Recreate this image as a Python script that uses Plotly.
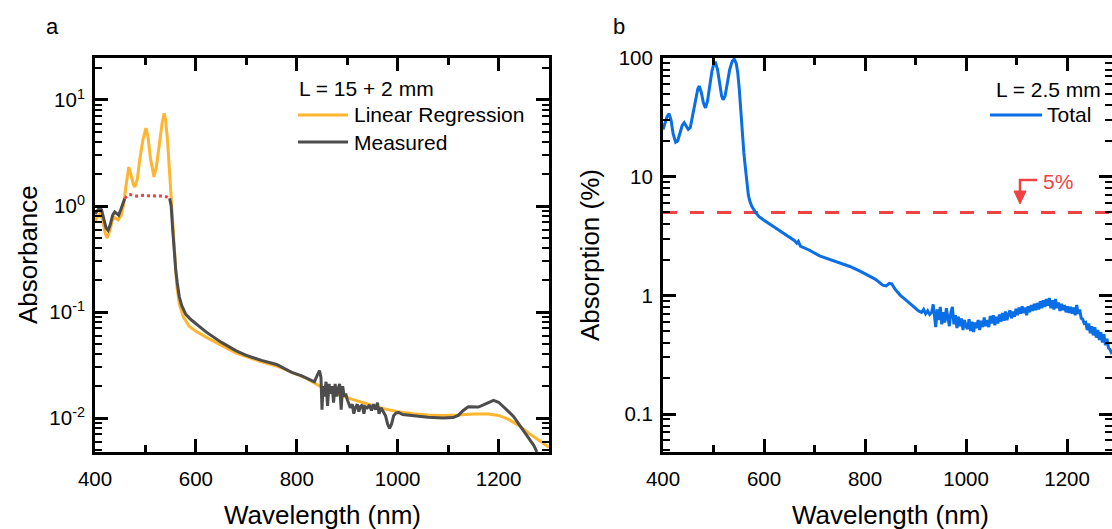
import plotly.graph_objects as go

# ---------------- Panel a data ----------------
lr_wl = [400, 405, 410, 415, 420, 424, 430, 434, 438, 442, 446, 452, 457, 461, 465, 467,
         471, 476, 479, 484, 489, 495, 501, 505, 510, 515, 517, 522, 528, 533, 537, 540,
         544, 548, 552, 555, 558, 562, 567, 575, 587, 600, 620, 650, 680, 700, 730, 760,
         790, 820, 850, 880, 910, 940, 970, 1000, 1030, 1060, 1090, 1120, 1150, 1180,
         1200, 1220, 1240, 1260, 1280, 1300]
lr_abs = [0.71, 0.80, 0.85, 0.74, 0.56, 0.50, 0.60, 0.72, 0.78, 0.76, 0.74, 0.82, 1.05, 1.5,
          2.1, 2.33, 2.0, 1.6, 1.51, 1.8, 2.8, 4.2, 5.44, 4.5, 2.8, 1.95, 1.88, 2.4, 4.0,
          6.0, 7.5, 6.5, 4.0, 2.0, 1.06, 0.5, 0.3, 0.18, 0.12, 0.09, 0.073, 0.066, 0.058,
          0.049, 0.041, 0.038, 0.034, 0.031, 0.027, 0.0235, 0.0195, 0.0168, 0.015, 0.0135,
          0.0123, 0.0115, 0.0110, 0.0107, 0.0106, 0.0107, 0.0109, 0.0109, 0.0106, 0.0097,
          0.0085, 0.0072, 0.0062, 0.0053]

meas_wl = [400, 404, 409, 413, 418, 422, 426, 430, 435, 439, 443, 447, 451, 455, 459,
           None,
           548, 551, 554, 557, 560, 563, 567, 572, 580, 590, 600, 620, 650, 680, 700, 730,
           760, 790, 810, 825, 835, 840, 845, 848, 850, 852, 855, 858, 861, 864, 867, 870,
           873, 876, 879, 882, 885, 888, 891, 894, 897, 900, 903, 906, 910, 913, 916, 920,
           923, 926, 930, 933, 936, 940, 944, 948, 952, 956, 960, 963, 967, 972, 976, 980,
           984, 988, 992, 997, 1002, 1010, 1030, 1060, 1090, 1110, 1120, 1130, 1140, 1150,
           1160, 1170, 1180, 1190, 1200, 1210, 1220, 1230, 1240, 1250, 1260, 1270, 1276]
meas_abs = [0.84, 0.90, 0.96, 0.92, 0.72, 0.62, 0.59, 0.66, 0.82, 0.88, 0.85, 0.82, 0.92,
            1.05, 1.18,
            None,
            1.18, 1.0, 0.6, 0.35, 0.25, 0.19, 0.14, 0.115, 0.095, 0.085, 0.078, 0.065,
            0.052, 0.043, 0.039, 0.035, 0.032, 0.027, 0.025, 0.023, 0.022, 0.025, 0.028,
            0.024, 0.012, 0.020, 0.016, 0.022, 0.013, 0.021, 0.017, 0.020, 0.014, 0.021,
            0.016, 0.019, 0.021, 0.012, 0.020, 0.016, 0.017, 0.015, 0.0135, 0.0125, 0.0135,
            0.011, 0.0125, 0.0135, 0.0115, 0.0128, 0.0133, 0.011, 0.0128, 0.0125, 0.0133,
            0.0118, 0.0135, 0.012, 0.014, 0.011, 0.0125, 0.0115, 0.0105, 0.0088, 0.0080,
            0.0088, 0.0105, 0.0112, 0.0113, 0.0108, 0.0105, 0.0102, 0.0100, 0.0101, 0.0106,
            0.0118, 0.0128, 0.0128, 0.0127, 0.0133, 0.0141, 0.0147, 0.0141, 0.0128, 0.0115,
            0.0103, 0.0088, 0.0077, 0.0066, 0.0055, 0.0048]

sat_wl = [459, 465, 470, 476, 482, 488, 495, 505, 515, 525, 535, 542, 548]
sat_abs = [1.18, 1.27, 1.28, 1.26, 1.24, 1.25, 1.26, 1.25, 1.25, 1.25, 1.24, 1.22, 1.18]

# ---------------- Panel b data ----------------
tot_wl = [400, 404, 408, 412, 416, 420, 425, 429, 433, 438, 442, 446, 450, 454, 459, 464,
          469, 472, 476, 480, 484, 488, 492, 497, 501, 504, 508, 512, 516, 519, 523, 527,
          532, 537, 541, 545, 548, 551, 554, 557, 560, 563, 566, 569, 572, 576, 582, 590,
          600, 615, 630, 645, 660, 665, 668, 672, 690, 710, 730, 750, 770, 790, 805, 820,
          835, 842, 848, 853, 860, 870, 880, 890, 900, 906, 912, 916, 920, 924, 928, 932,
          935, 938, 940, 943, 946, 949, 952, 955, 958, 961, 964, 967, 970, 973, 976, 979,
          982, 985, 988, 991, 994, 997, 1000, 1003, 1006, 1009, 1012, 1015, 1018, 1021,
          1024, 1027, 1030, 1033, 1036, 1039, 1042, 1045, 1048, 1051, 1054, 1057, 1060,
          1063, 1066, 1069, 1072, 1075, 1078, 1081, 1084, 1087, 1090, 1093, 1096, 1099,
          1102, 1105, 1108, 1111, 1114, 1117, 1120, 1123, 1126, 1129, 1132, 1135, 1138,
          1141, 1144, 1147, 1150, 1153, 1156, 1159, 1162, 1165, 1168, 1171, 1174, 1177,
          1180, 1183, 1186, 1189, 1192, 1195, 1198, 1201, 1204, 1207, 1210, 1213, 1216,
          1219, 1222, 1225, 1228, 1231, 1234, 1237, 1240, 1243, 1246, 1249, 1252, 1255,
          1258, 1261, 1264, 1267, 1270, 1273, 1276, 1279, 1282, 1285, 1289]
tot_pct = [25, 29, 32, 34, 30, 23, 19.5, 20, 23, 27, 28.5, 26.5, 25, 26,
           33, 44, 55, 58, 51, 42, 38, 43, 58, 78, 90, 91, 80, 60, 48, 44.5,
           48, 60, 80, 94, 98, 90, 75, 55, 35, 24,
           16, 12, 9, 7, 6.2, 5.6, 5.1, 4.6,
           4.3, 3.9, 3.5, 3.2, 2.9, 2.75, 2.85, 2.6,
           2.4, 2.15, 2.0, 1.87, 1.75, 1.6, 1.48, 1.37,
           1.22, 1.2, 1.26, 1.25, 1.12, 1.0, 0.92, 0.85,
           0.79, 0.74, 0.72, 0.76, 0.70, 0.74, 0.69, 0.72,
           0.84, 0.60, 0.54, 0.76, 0.62, 0.80, 0.57, 0.72, 0.59, 0.78,
           0.63, 0.55, 0.72, 0.80, 0.57, 0.68, 0.53, 0.66, 0.55, 0.64,
           0.51, 0.62, 0.55, 0.52, 0.63, 0.50, 0.60, 0.49, 0.59, 0.53,
           0.62, 0.51, 0.61, 0.54, 0.65, 0.55, 0.62, 0.54, 0.67, 0.58,
           0.68, 0.56, 0.66, 0.58, 0.69, 0.60, 0.71, 0.61, 0.73, 0.62,
           0.69, 0.75, 0.64, 0.73, 0.66, 0.77, 0.68, 0.79, 0.70, 0.81,
           0.71, 0.79, 0.68, 0.81, 0.72, 0.83, 0.74, 0.85, 0.75, 0.86,
           0.76, 0.89, 0.78, 0.91, 0.80, 0.93, 0.82, 0.95, 0.78, 0.91,
           0.76, 0.93, 0.78, 0.87, 0.74, 0.85, 0.75, 0.83, 0.72, 0.81,
           0.71, 0.80, 0.70, 0.79, 0.68, 0.83, 0.70, 0.76, 0.64, 0.63,
           0.58, 0.59, 0.51, 0.58, 0.48, 0.55, 0.46, 0.54, 0.44, 0.51,
           0.42, 0.49, 0.40, 0.47, 0.38, 0.43, 0.36, 0.35, 0.32]

threshold_pct = 5

x_ticks = [400, 600, 800, 1000, 1200]
x_ticktext = ["400", "600", "800", "1000", "1200"]
ya_ticks = [0.01, 0.1, 1, 10]
ya_ticktext = ["10<sup>-2</sup>", "10<sup>-1</sup>", "10<sup>0</sup>", "10<sup>1</sup>"]
yb_ticks = [0.1, 1, 10, 100]
yb_ticktext = ["0.1", "1", "10", "100"]

# ---------------- Styling ----------------
W, H = 1112, 529
FONT = "Liberation Sans, Arial, sans-serif"
ORANGE = "#FFB530"
GREY = "#4D4D4D"
RED = "#EF4343"
BLUE = "#0A6EE6"


def fx(p):
    return p / W


def fy(p):
    return 1 - p / H


def minor_log(lo, hi):
    vals = []
    for e in range(lo, hi + 1):
        for m in range(2, 10):
            vals.append(m * 10 ** e)
    return vals


fig = go.Figure()
fig.add_trace(go.Scatter(x=lr_wl, y=lr_abs, mode="lines", name="Linear Regression",
                         line=dict(color=ORANGE, width=3), xaxis="x", yaxis="y",
                         showlegend=False))
fig.add_trace(go.Scatter(x=meas_wl, y=meas_abs, mode="lines", name="Measured",
                         line=dict(color=GREY, width=3), xaxis="x", yaxis="y",
                         connectgaps=False, showlegend=False))
fig.add_trace(go.Scatter(x=sat_wl, y=sat_abs, mode="lines", name="Saturated",
                         line=dict(color=RED, width=3, dash="dot"), xaxis="x", yaxis="y",
                         showlegend=False))
fig.add_trace(go.Scatter(x=[400, 1300], y=[threshold_pct, threshold_pct], mode="lines",
                         name="5%", line=dict(color=RED, width=3, dash="14px,13px"),
                         xaxis="x2", yaxis="y2", showlegend=False))
fig.add_trace(go.Scatter(x=tot_wl, y=tot_pct, mode="lines", name="Total",
                         line=dict(color=BLUE, width=3), xaxis="x2", yaxis="y2",
                         showlegend=False))

tickfont = dict(family=FONT, size=20.5, color="black")
common_x = dict(showline=True, linewidth=3, linecolor="black", mirror="ticks",
                ticks="inside", ticklen=13, tickwidth=2.5, tickcolor="black",
                tickmode="array", tickvals=x_ticks, ticktext=x_ticktext,
                showgrid=False, zeroline=False, tickfont=tickfont,
                ticklabelstandoff=6, automargin=False,
                minor=dict(ticks="inside", ticklen=7, tickwidth=2.5, tickcolor="black",
                           tickmode="array", tickvals=[500, 700, 900, 1100, 1300],
                           showgrid=False))
common_y = dict(type="log", showline=True, linewidth=3, linecolor="black", mirror="ticks",
                ticks="inside", ticklen=13, tickwidth=2.5, tickcolor="black",
                showgrid=False, zeroline=False, tickfont=tickfont, tickmode="array",
                ticklabelstandoff=3, automargin=False)

fig.update_layout(
    template="none",
    width=W, height=H,
    margin=dict(l=0, r=0, t=0, b=0, pad=0, autoexpand=False),
    paper_bgcolor="white", plot_bgcolor="white",
    font=dict(family=FONT, color="black"),
    showlegend=False,
    xaxis=dict(domain=[fx(95), fx(549)], range=[400, 1300], anchor="y", **common_x),
    yaxis=dict(domain=[fy(452), fy(58)], range=[-2.32, 1.396], anchor="x",
               tickvals=ya_ticks, ticktext=ya_ticktext,
               minor=dict(ticks="inside", ticklen=7, tickwidth=2, tickcolor="black",
                          tickmode="array", tickvals=minor_log(-3, 1), showgrid=False),
               **common_y),
    xaxis2=dict(domain=[fx(663), 1.0], range=[400, 1289], anchor="y2", **common_x),
    yaxis2=dict(domain=[fy(452), fy(58)], range=[-1.32, 2.0], anchor="x2",
                tickvals=yb_ticks, ticktext=yb_ticktext,
                minor=dict(ticks="inside", ticklen=7, tickwidth=2, tickcolor="black",
                           tickmode="array", tickvals=minor_log(-2, 1), showgrid=False),
                **common_y),
)

ann = []


def text(t, x, y, size=21, anchor="left", color="black", angle=0):
    ann.append(dict(text=t, x=fx(x), y=fy(y), xref="paper", yref="paper",
                    xanchor=anchor, yanchor="middle", showarrow=False, textangle=angle,
                    font=dict(family=FONT, size=size, color=color)))


text("a", 44, 26, size=22)
text("b", 611, 26, size=22)
text("Absorbance", 28, 255, size=26, anchor="center", angle=-90)
text("Absorption (%)", 590, 255, size=26, anchor="center", angle=-90)
text("Wavelength (nm)", 322, 515, size=26, anchor="center")
text("Wavelength (nm)", 890, 515, size=26, anchor="center")
text("L = 15 + 2 mm", 297, 88)
text("Linear Regression", 352, 115)
text("Measured", 352, 142)
text("L = 2.5 mm", 1103, 89, anchor="right")
text("Total", 1045, 115)
text("5%", 1041, 182, color=RED)

shapes = [
    dict(type="line", xref="paper", yref="paper", x0=fx(298), x1=fx(348), y0=fy(115),
         y1=fy(115), line=dict(color=ORANGE, width=3)),
    dict(type="line", xref="paper", yref="paper", x0=fx(298), x1=fx(348), y0=fy(142),
         y1=fy(142), line=dict(color=GREY, width=3)),
    dict(type="line", xref="paper", yref="paper", x0=fx(990), x1=fx(1042), y0=fy(115),
         y1=fy(115), line=dict(color=BLUE, width=3)),
    dict(type="path", xref="paper", yref="paper",
         path=f"M {fx(1037)},{fy(180)} L {fx(1020)},{fy(180)} L {fx(1020)},{fy(194)}",
         line=dict(color=RED, width=2.5)),
    dict(type="path", xref="paper", yref="paper",
         path=f"M {fx(1014)},{fy(191)} L {fx(1026)},{fy(191)} L {fx(1020)},{fy(204)} Z",
         fillcolor=RED, line=dict(color=RED, width=1)),
]
fig.update_layout(annotations=ann, shapes=shapes)

fig.write_html("out.html")
